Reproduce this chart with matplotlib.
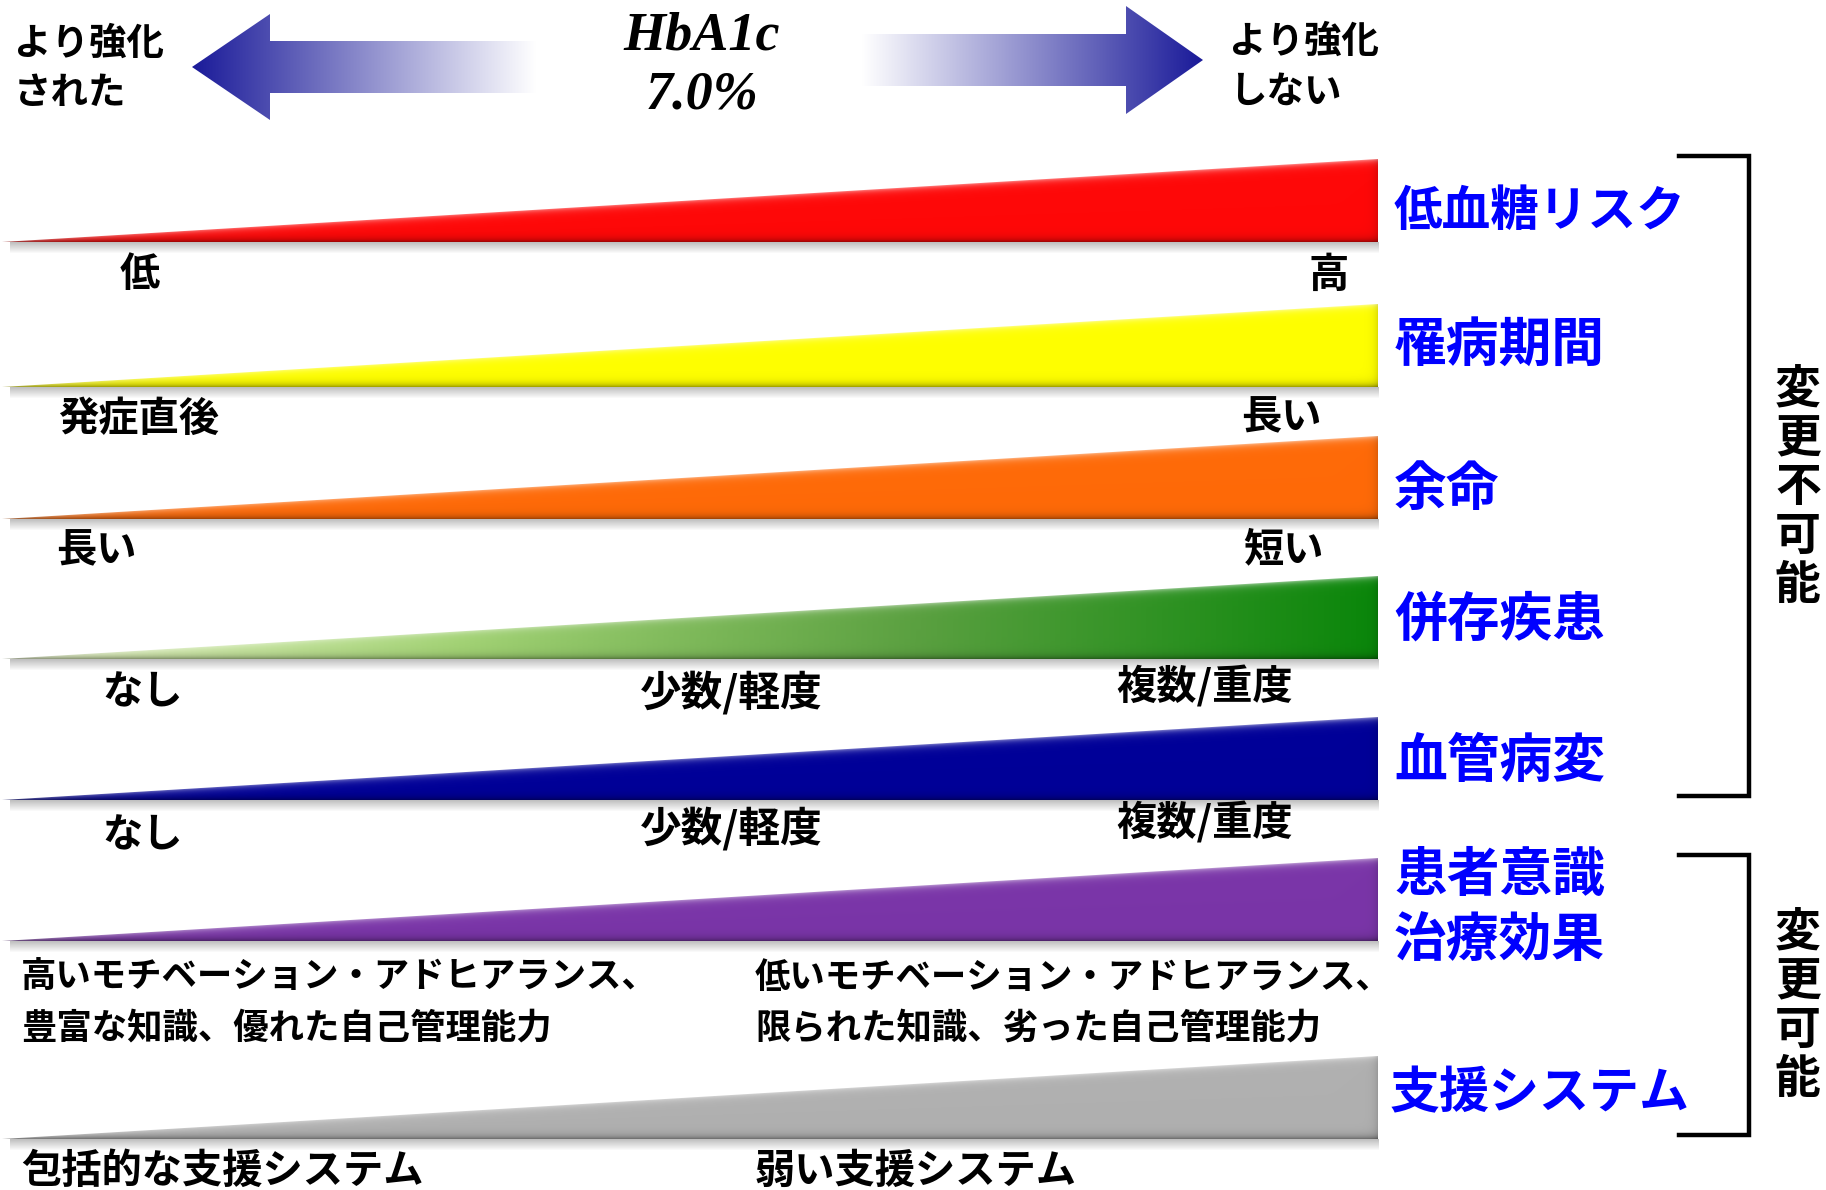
import numpy as np
import matplotlib.pyplot as plt
from matplotlib.patches import Polygon
from matplotlib.colors import to_rgb, LinearSegmentedColormap

plt.rcParams['font.family'] = ['Noto Sans CJK JP', 'DejaVu Sans']

# --- data -------------------------------------------------------------
factors = ['低血糖リスク', '罹病期間', '余命', '併存疾患', '血管病変',
           '患者意識\n治療効果', '支援システム']
low_labels = ['低', '発症直後', '長い', 'なし', 'なし',
              '高いモチベーション・アドヒアランス、\n豊富な知識、優れた自己管理能力',
              '包括的な支援システム']
mid_labels = ['', '', '', '少数/軽度', '少数/軽度', '', '']
high_labels = ['高', '長い', '短い', '複数/重度', '複数/重度',
               '低いモチベーション・アドヒアランス、\n限られた知識、劣った自己管理能力',
               '弱い支援システム']
groups = ['変更不可能', '変更可能']
group_rows = [(0, 4), (5, 6)]
header_left = 'より強化\nされた'
header_right = 'より強化\nしない'
header_mid = 'HbA1c\n7.0%'

# --- styles / layout --------------------------------------------------
wedge_colors = ['#ff0808', '#ffff00', '#ff6a08', None, '#000098', '#7a35a8', '#b0b0b0']
green_stops = ['#e8f6c4', '#a2d274', '#5aa040', '#0a860a']
row_bottom = [242, 387, 519, 659, 800, 941, 1139]
wedge_h = 83
x_tip, x_end = 2, 1378
factor_fs = [35, 38, 38, 38, 38, 38, 36]
factor_y = [211, 345, 489, 620, 762, 908, 1094]
low_x = [120, 58, 56, 102, 102, 21, 21]
low_dy = [32, 32, 32, 34, 36, 62, 32]
low_fs = [29, 29, 29, 29, 29, 25.5, 29]
high_x = [1349, 1322, 1324, 1293, 1293, 755, 755]
high_dy = [33, 31, 31, 28, 23, 62, 32]
high_ha = ['right'] * 5 + ['left'] * 2
mid_x = 640
mid_dy = [0, 0, 0, 34, 29, 0, 0]

fig = plt.figure(figsize=(18.26, 11.90), dpi=100)
ax = fig.add_axes([0, 0, 1, 1])
ax.set_xlim(0, 1826)
ax.set_ylim(1190, 0)
ax.axis('off')


def shaded_wedge(bottom, color, stops=None):
    top = bottom - wedge_h
    xs = np.arange(x_tip, x_end + 1, dtype=float)
    ys = np.arange(top - 1, bottom + 1, dtype=float)
    X, Y = np.meshgrid(xs, ys)
    if stops is None:
        base = np.ones(X.shape + (3,)) * np.array(to_rgb(color))
    else:
        cm = LinearSegmentedColormap.from_list('g', stops)
        base = cm((X - x_tip) / (x_end - x_tip))[..., :3]
    ytop = bottom - wedge_h * (X - x_tip) / (x_end - x_tip)
    t = np.clip(Y - ytop, 0, None)
    b = np.clip(bottom - Y, 0, None)
    r = x_end - X
    hi = 0.45 * np.exp(-t / 3.0)
    lo = 0.35 * np.exp(-b / 3.5) + 0.12 * np.exp(-r / 4.0)
    img = base * (1 - hi[..., None]) + hi[..., None]
    img = img * (1 - lo[..., None])
    im = ax.imshow(img, extent=(x_tip, x_end, bottom, top - 1), origin='upper',
                   aspect='auto', interpolation='bilinear', zorder=3)
    poly = Polygon([(x_tip, bottom), (x_end, top), (x_end, bottom)],
                   closed=True, facecolor='none', edgecolor='none')
    ax.add_patch(poly)
    im.set_clip_path(poly)
    # soft shadow under the wedge
    sh = np.zeros((12, 2, 4))
    sh[..., :3] = 0.45
    sh[..., 3] = np.linspace(0.45, 0.0, 12)[:, None]
    ax.imshow(sh, extent=(x_tip + 8, x_end + 1, bottom + 12, bottom),
              origin='upper', aspect='auto', interpolation='bilinear', zorder=2)


for i in range(len(factors)):
    shaded_wedge(row_bottom[i], wedge_colors[i], green_stops if i == 3 else None)
    ax.text(1394 if i != 6 else 1390, factor_y[i], factors[i], color='#0000ff',
            fontsize=factor_fs[i], fontweight='bold', va='center', ha='left',
            linespacing=1.3, zorder=5)
    ax.text(low_x[i], row_bottom[i] + low_dy[i], low_labels[i],
            fontsize=low_fs[i], fontweight='bold', va='center', ha='left',
            linespacing=1.55)
    ax.text(high_x[i], row_bottom[i] + high_dy[i], high_labels[i],
            fontsize=low_fs[i], fontweight='bold', va='center', ha=high_ha[i],
            linespacing=1.55)
    if mid_labels[i]:
        ax.text(mid_x, row_bottom[i] + mid_dy[i], mid_labels[i],
                fontsize=30, fontweight='bold', va='center', ha='left')

# brackets with vertical group labels
for (r0, r1), name in zip(group_rows, groups):
    y0 = row_bottom[r0] - wedge_h - 3
    y1 = row_bottom[r1] - 4
    ax.plot([1679, 1749, 1749, 1679], [y0, y0, y1, y1], color='black',
            lw=3.2, solid_joinstyle='miter', zorder=4)
    ax.text(1798, (y0 + y1) / 2 + 12, '\n'.join(name), fontsize=33,
            fontweight='bold', va='center', ha='center', linespacing=1.08)


# gradient arrows in the header
def grad_arrow(tip, base_x, tail, yc, shaft_half, head_half):
    xs = np.linspace(min(tip, tail), max(tip, tail), 400)
    u = np.abs(xs - tip) / abs(tail - tip)
    c0 = np.array(to_rgb('#1a1a99'))
    img = c0 * (1 - u[:, None]) + u[:, None]
    img = img[None, :, :].repeat(2, axis=0)
    im = ax.imshow(img, extent=(xs[0], xs[-1], yc + head_half, yc - head_half),
                   origin='upper', aspect='auto', interpolation='bilinear', zorder=3)
    pts = [(tip, yc), (base_x, yc - head_half), (base_x, yc - shaft_half),
           (tail, yc - shaft_half), (tail, yc + shaft_half),
           (base_x, yc + shaft_half), (base_x, yc + head_half)]
    poly = Polygon(pts, closed=True, facecolor='none', edgecolor='none')
    ax.add_patch(poly)
    im.set_clip_path(poly)


grad_arrow(192, 270, 536, 67, 26, 53)
grad_arrow(1203, 1126, 862, 60, 26, 54)

ax.text(14, 68, header_left, fontsize=27, fontweight='bold', va='center',
        ha='left', linespacing=1.35)
ax.text(1229, 66, header_right, fontsize=27, fontweight='bold', va='center',
        ha='left', linespacing=1.35)
ax.text(702, 66, header_mid, fontsize=39, fontweight='bold', style='italic',
        family='Liberation Serif', va='center', ha='center', linespacing=1.25)

ax.set_xlim(0, 1826)
ax.set_ylim(1190, 0)
fig.savefig('out.png', dpi=100, facecolor='white')
